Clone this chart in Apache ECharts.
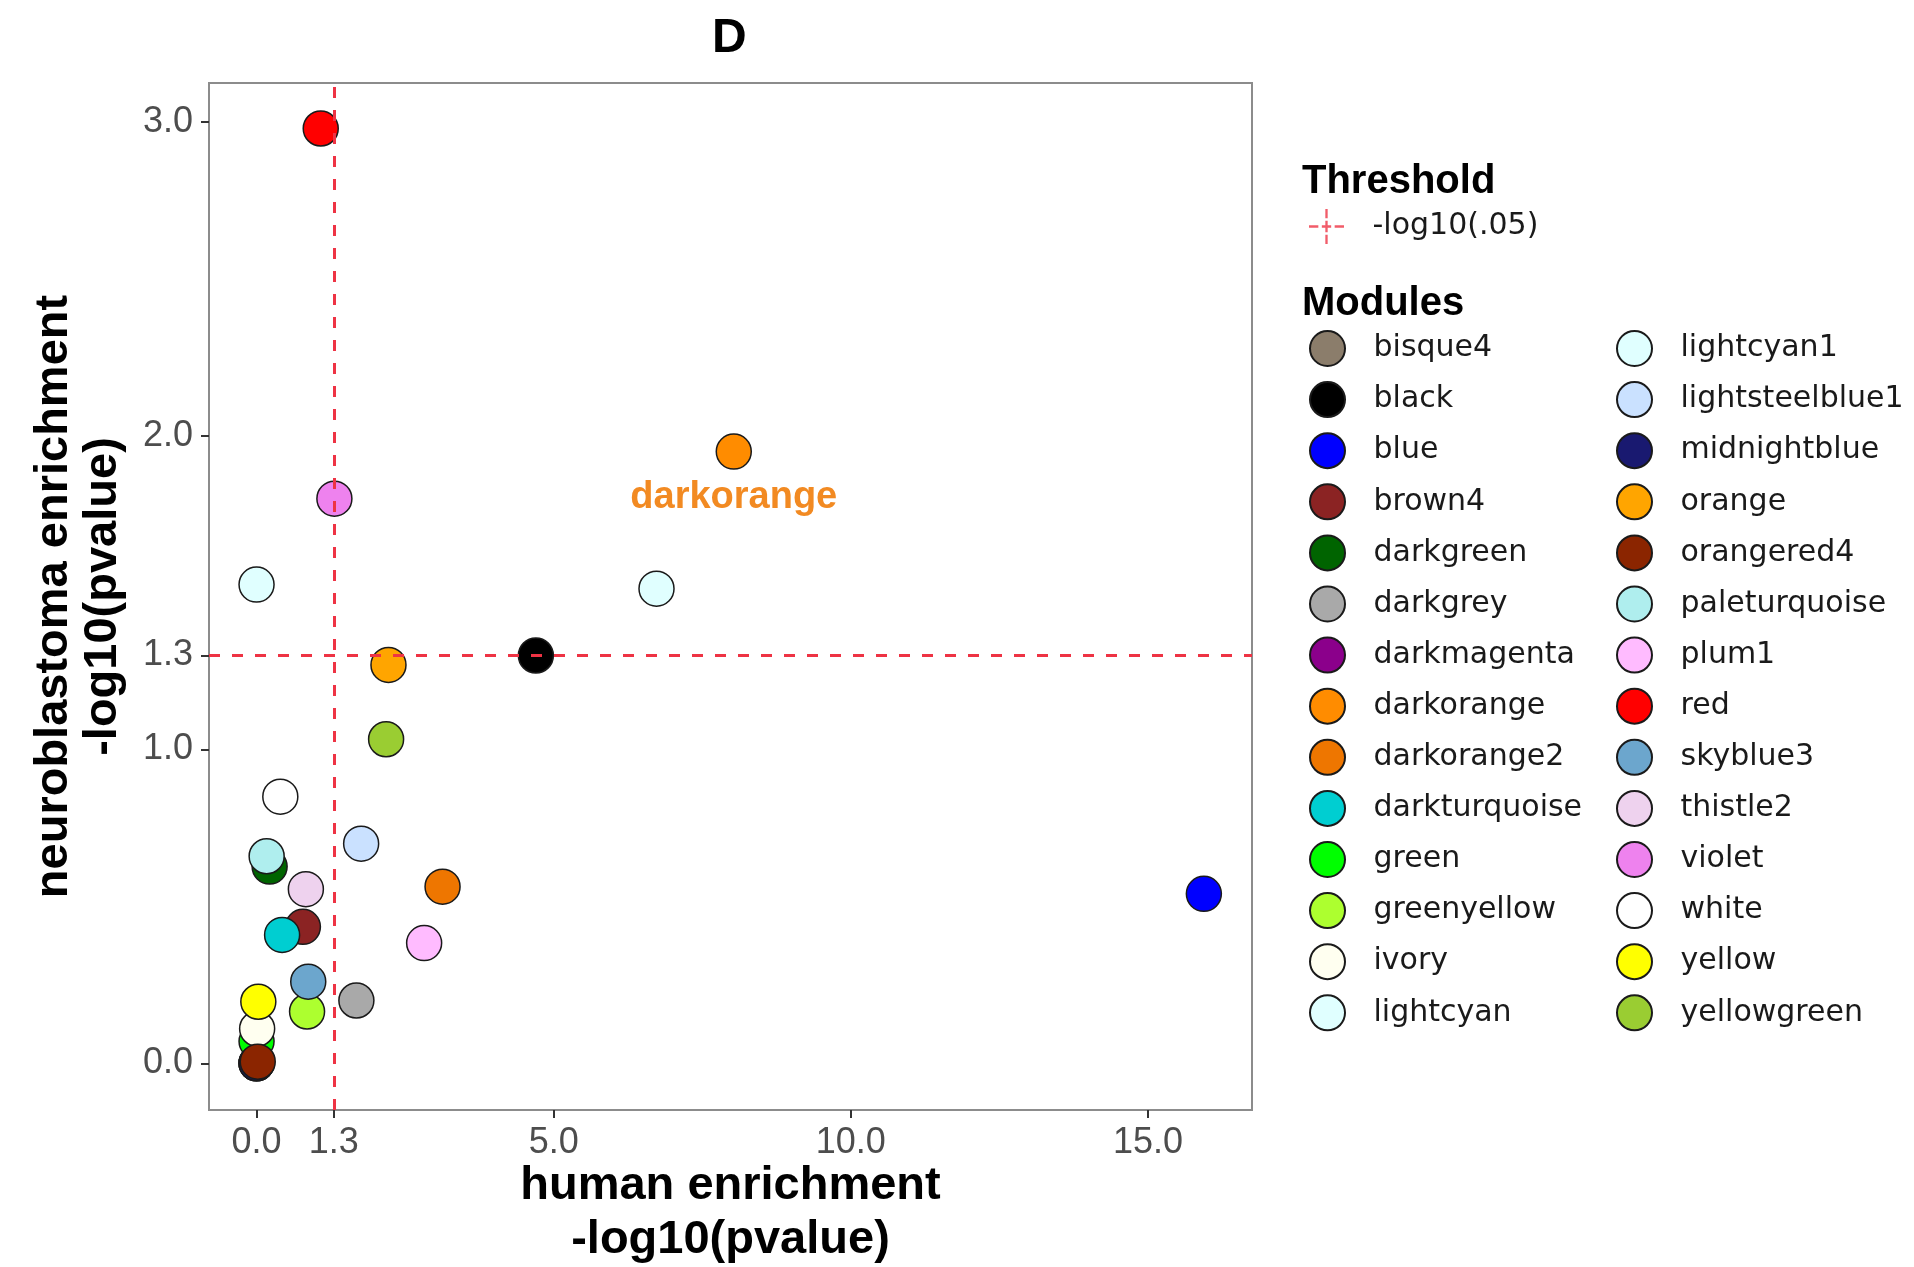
<!DOCTYPE html>
<html lang="en">
<head>
  <meta charset="UTF-8">
  <title>D</title>
  <script src="https://cdn.jsdelivr.net/npm/echarts@6/dist/echarts.min.js"></script>
  <style>
    html, body { margin: 0; padding: 0; background: #fff; }
    #main { width: 1914px; height: 1267px; }
  </style>
</head>
<body>
<div id="main"></div>

<script>
  // module names, in legend order
  const modules = ["bisque4", "black", "blue", "brown4", "darkgreen", "darkgrey", "darkmagenta",
    "darkorange", "darkorange2", "darkturquoise", "green", "greenyellow", "ivory", "lightcyan",
    "lightcyan1", "lightsteelblue1", "midnightblue", "orange", "orangered4", "paleturquoise",
    "plum1", "red", "skyblue3", "thistle2", "violet", "white", "yellow", "yellowgreen"];
  // human enrichment -log10(pvalue)
  const humanVals = [0.0, 4.70, 15.94, 0.78, 0.22, 1.68, 0.0,
    8.03, 3.13, 0.43, 0.0, 0.85, 0.01, 0.0,
    6.73, 1.76, 0.0, 2.22, 0.02, 0.17,
    2.82, 1.08, 0.87, 0.83, 1.31, 0.40, 0.03, 2.18];
  // neuroblastoma enrichment -log10(pvalue)
  const neuroVals = [0.0, 1.30, 0.54, 0.435, 0.627, 0.20, 0.0,
    1.95, 0.563, 0.409, 0.07, 0.165, 0.11, 1.526,
    1.513, 0.70, 0.0, 1.27, 0.005, 0.66,
    0.383, 2.98, 0.26, 0.555, 1.80, 0.85, 0.196, 1.033];
  const xTicks = [0, 1.3, 5, 10, 15];
  const yTicks = [0, 1, 1.3, 2, 3];
  const threshold = 1.3;
  const labelled = "darkorange";

  // R colour names -> hex
  const moduleColors = {
    bisque4: "#8B7D6B", black: "#000000", blue: "#0000FF", brown4: "#8B2323",
    darkgreen: "#006400", darkgrey: "#A9A9A9", darkmagenta: "#8B008B", darkorange: "#FF8C00",
    darkorange2: "#EE7600", darkturquoise: "#00CED1", green: "#00FF00", greenyellow: "#ADFF2F",
    ivory: "#FFFFF0", lightcyan: "#E0FFFF", lightcyan1: "#E0FFFF", lightsteelblue1: "#CAE1FF",
    midnightblue: "#191970", orange: "#FFA500", orangered4: "#8B2500", paleturquoise: "#AFEEEE",
    plum1: "#FFBBFF", red: "#FF0000", skyblue3: "#6CA6CD", thistle2: "#EED2EE",
    violet: "#EE82EE", white: "#FFFFFF", yellow: "#FFFF00", yellowgreen: "#9ACD32"
  };

  const lineRed = "#EE3344";
  const sans = "Liberation Sans, Arial, sans-serif";
  const wide = "DejaVu Sans, Verdana, sans-serif";
  const crossIcon = "path://M0 14H8V16H0Z M22 14H30V16H22Z M11 14H19V16H11Z M14 0H16V8H14Z M14 10H16V20H14Z M14 22H16V30H14Z";

  function buildSeries() {
    let list = [];
    for (let i = 0; i < modules.length; i++) {
      let name = modules[i];
      let s = {
        name: name,
        type: "scatter",
        symbolSize: 35,
        itemStyle: {
          color: moduleColors[name],
          borderColor: "#1a1a1a",
          borderWidth: 1.5,
          opacity: 1
        },
        emphasis: { disabled: true },
        data: [[humanVals[i], neuroVals[i]]]
      };
      if (name === labelled) {
        s.label = {
          show: true,
          position: "bottom",
          distance: 9,
          formatter: name,
          color: "#F28A22",
          fontFamily: sans,
          fontWeight: "bold",
          fontSize: 38,
          lineHeight: 38
        };
      }
      list.push(s);
    }
    // threshold lines, drawn last so they sit above the points
    list.push({
      name: "-log10(.05)",
      type: "scatter",
      data: [],
      itemStyle: { color: lineRed },
      markLine: {
        silent: true,
        symbol: ["none", "none"],
        label: { show: false },
        lineStyle: { color: lineRed, type: [11, 12], width: 3 },
        data: [{ xAxis: threshold }, { yAxis: threshold }]
      }
    });
    return list;
  }

  function legendBlock(data, left, top, icon) {
    return {
      orient: "vertical",
      left: left,
      top: top,
      padding: 0,
      itemWidth: 82,
      itemHeight: 35,
      itemGap: 14.1,
      icon: icon,
      selectedMode: false,
      data: data,
      textStyle: { fontFamily: wide, fontSize: 30, lineHeight: 30, color: "#1a1a1a" }
    };
  }

  function chartInit() {
    let myChart = echarts.init(document.getElementById("main"));
    let tickLabel = { fontFamily: sans, fontSize: 36, lineHeight: 36, color: "#4d4d4d" };

    let option = {
      animation: false,
      backgroundColor: "#ffffff",
      title: [
        { text: "D", left: 712, top: 15, padding: 0,
          textStyle: { fontFamily: sans, fontWeight: "bold", fontSize: 48, lineHeight: 48, color: "#000" } },
        { text: "Threshold", left: 1302, top: 162, padding: 0,
          textStyle: { fontFamily: sans, fontWeight: "bold", fontSize: 40, lineHeight: 40, color: "#000" } },
        { text: "Modules", left: 1302, top: 284, padding: 0,
          textStyle: { fontFamily: sans, fontWeight: "bold", fontSize: 40, lineHeight: 40, color: "#000" } }
      ],
      legend: [
        legendBlock([{ name: "-log10(.05)", icon: crossIcon }], 1309, 209, crossIcon),
        legendBlock(modules.slice(0, 14), 1309, 330, "circle"),
        legendBlock(modules.slice(14), 1616, 330, "circle")
      ],
      grid: {
        left: 209, right: 662, top: 83, bottom: 157,
        outerBoundsMode: "none",
        containLabel: false,
        show: true,
        borderColor: "#8c8c8c",
        borderWidth: 2
      },
      xAxis: {
        type: "value",
        min: -0.8,
        max: 16.75,
        name: "human enrichment\n-log10(pvalue)",
        nameLocation: "middle",
        nameGap: 49.5,
        nameMoveOverlap: false,
        nameTextStyle: { fontFamily: sans, fontWeight: "bold", fontSize: 47, lineHeight: 54, color: "#000" },
        axisLine: { show: false, onZero: false },
        splitLine: { show: false },
        axisTick: { show: true, customValues: xTicks, length: 8, lineStyle: { color: "#333", width: 2 } },
        axisLabel: {
          customValues: xTicks,
          margin: 15,
          formatter: function (v) { return v.toFixed(1); },
          ...tickLabel
        }
      },
      yAxis: {
        type: "value",
        min: -0.149,
        max: 3.125,
        name: "neuroblastoma enrichment\n-log10(pvalue)",
        nameLocation: "middle",
        nameRotate: 90,
        nameGap: 81,
        nameMoveOverlap: false,
        nameTextStyle: { fontFamily: sans, fontWeight: "bold", fontSize: 47, lineHeight: 49, color: "#000" },
        axisLine: { show: false, onZero: false },
        splitLine: { show: false },
        axisTick: { show: true, customValues: yTicks, length: 8, lineStyle: { color: "#333", width: 2 } },
        axisLabel: {
          customValues: yTicks,
          margin: 16,
          formatter: function (v) { return v.toFixed(1); },
          ...tickLabel
        }
      },
      series: buildSeries()
    };
    myChart.setOption(option, true);
    window.addEventListener("resize", function () {
      myChart.resize();
    });
  }

  chartInit();
</script>
</body>
</html>
